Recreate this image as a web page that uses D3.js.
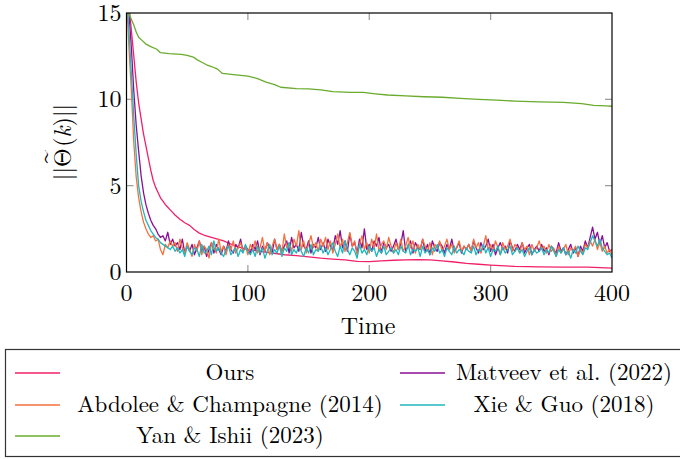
<!DOCTYPE html>
<html>
<head>
<meta charset="utf-8">
<script src="https://cdn.jsdelivr.net/npm/d3@7"></script>
<style>
  body { margin: 0; background: #fff; }
</style>
</head>
<body>
<div id="chart"></div>
<script>
// ---- data ----
var x_ticks = [0, 100, 200, 300, 400];
var y_ticks = [0, 5, 10, 15];

// smooth curves: (time, value) pairs
var ours_t = [0,2,4,6,8,10,12,14,16,18,20,22,24,26,28,30,32,34,36,38,40,44,48,52,56,60,65,70,75,80,85,90,95,100,110,120,130,140,150,160,170,180,190,200,210,220,230,240,250,260,270,280,290,300,320,340,360,380,400];
var ours_v = [17,15.5,14,12.5,11,9.8,8.9,8.0,7.3,6.6,5.9,5.3,4.9,4.6,4.3,4.1,3.9,3.75,3.6,3.45,3.3,3.05,2.85,2.7,2.45,2.25,2.1,2.0,1.9,1.8,1.65,1.5,1.4,1.3,1.2,1.1,1.0,0.95,0.88,0.8,0.75,0.7,0.62,0.6,0.65,0.68,0.7,0.72,0.7,0.65,0.58,0.5,0.45,0.4,0.32,0.3,0.28,0.28,0.23];

var yan_t = [0,3,6,8,10,13,16,20,25,28,35,45,50,55,58,62,66,70,75,79,90,100,108,115,122,127,140,150,160,170,185,195,205,215,230,245,260,275,290,305,320,340,360,375,385,395,400];
var yan_v = [15.2,14.8,14.3,13.9,13.6,13.4,13.2,13.05,12.9,12.7,12.65,12.6,12.55,12.45,12.3,12.15,12.0,11.9,11.75,11.5,11.42,11.35,11.2,11.0,10.85,10.7,10.62,10.6,10.55,10.45,10.4,10.4,10.32,10.25,10.2,10.15,10.12,10.05,10.0,9.95,9.9,9.85,9.82,9.75,9.65,9.62,9.6];

// noisy curves: one value every 2 time steps, t = 0..400
var abdolee_v = [16,13,10.5,7.5,5.5,4.3,3.5,2.9,2.5,2.2,2.0,2.1,1.8,1.9,1.3,1.0,1.6,1.4,1.8,1.5,1.7,
  1.2,1.9,1.4,1.1,1.7,1.3,0.9,1.6,1.2,1.8,1.0,1.5,1.3,0.8,1.7,1.4,1.1,1.9,1.2,1.5,1.0,1.6,1.3,1.8,1.1,1.4,1.7,1.2,1.5,1.0,
  1.6,1.3,1.8,1.1,1.4,2.0,1.2,1.7,1.0,1.5,1.9,1.3,1.6,1.1,2.2,1.4,1.7,1.2,1.9,1.5,2.4,1.3,1.8,1.1,1.6,2.1,1.4,1.7,1.2,1.9,
  1.5,2.0,1.3,1.8,1.1,1.6,2.2,1.4,1.9,1.2,1.7,2.3,1.5,1.8,1.0,1.6,2.1,1.3,1.7,1.1,1.9,1.4,2.2,1.2,1.6,1.8,1.3,2.0,1.5,1.1,
  1.7,1.3,1.9,1.2,1.5,2.0,1.4,1.8,1.1,1.6,1.3,1.9,1.5,1.2,1.7,1.0,1.6,1.4,1.8,1.2,1.5,1.9,1.3,1.6,1.1,1.4,1.8,1.2,1.5,1.3,
  1.6,1.2,1.9,1.4,1.7,1.1,1.5,2.1,1.3,1.6,1.2,1.8,1.4,1.0,1.7,1.3,1.5,1.9,1.2,1.6,1.4,1.1,1.7,1.3,1.5,1.0,1.6,1.2,1.4,1.8,
  1.3,1.5,1.1,1.6,1.2,1.4,0.9,1.5,1.1,1.3,1.6,1.0,1.4,1.2,1.5,0.9,1.3,1.1,1.6,1.4,1.8,1.5,1.9,1.3,1.7,1.2,1.5,1.1,1.3,1.0];

var xie_v = [16,14,11.5,9,6.8,5.0,4.1,3.5,3.0,2.7,2.4,2.2,2.0,1.9,1.7,1.6,1.5,1.4,1.3,1.5,1.2,
  1.4,1.1,1.3,0.9,1.5,1.2,1.0,1.4,1.3,0.9,1.6,1.1,1.2,1.5,1.0,1.8,1.2,1.4,1.1,0.9,1.3,1.5,1.0,1.2,1.4,0.9,1.3,1.1,1.6,1.2,
  1.0,1.3,0.9,1.5,1.1,1.4,0.8,1.2,1.6,1.0,1.3,1.1,1.5,0.9,1.4,1.2,1.7,1.0,1.3,1.1,1.5,1.2,0.9,1.4,1.1,1.6,1.0,1.3,1.2,1.5,
  1.1,1.4,1.0,1.3,1.7,1.2,0.9,1.5,1.1,1.8,1.3,1.0,1.4,1.2,0.8,1.6,1.1,1.3,1.0,1.5,1.2,1.4,0.9,1.3,1.1,1.5,1.0,1.2,1.4,1.1,
  1.3,1.0,1.5,1.2,1.1,1.6,1.0,1.3,1.2,1.4,0.9,1.5,1.1,1.3,1.0,1.4,1.2,1.6,1.1,1.3,0.9,1.4,1.2,1.0,1.5,1.1,1.3,1.2,1.0,1.4,
  1.2,1.1,1.5,1.0,1.3,1.2,1.6,1.1,1.4,0.9,1.3,1.2,1.5,1.0,1.4,1.1,1.3,1.5,1.0,1.2,1.4,1.1,1.3,0.9,1.2,1.4,1.0,1.3,1.1,1.2,
  1.4,1.0,1.3,1.1,1.5,1.2,0.9,1.3,1.1,1.4,1.0,1.2,0.8,1.3,1.1,1.5,1.2,1.0,1.4,1.3,1.7,2.1,1.8,1.5,1.9,1.4,1.2,1.0,1.1,0.8];

var matveev_v = [16.5,15,13,10.5,8.5,7.0,5.6,4.6,3.9,3.4,3.0,2.7,2.5,2.2,2.0,2.1,1.8,2.3,1.6,1.9,1.5,
  1.7,1.3,1.9,1.1,1.5,1.2,1.6,1.0,1.4,1.8,1.2,1.5,0.9,1.3,1.7,1.1,1.6,1.3,1.0,1.5,1.2,1.8,1.3,1.1,1.6,1.4,1.9,1.2,1.5,1.3,
  1.1,1.6,1.3,1.8,1.0,1.5,1.2,1.7,1.4,1.1,1.9,1.3,1.6,1.2,1.5,1.8,1.1,2.0,1.4,1.6,1.2,2.3,1.5,1.3,1.8,1.1,1.6,1.4,2.0,1.3,
  1.7,1.2,1.9,1.5,1.3,2.1,1.6,2.4,1.4,1.8,1.2,2.2,1.5,1.7,1.1,1.9,1.4,2.5,1.3,1.6,1.2,1.8,1.5,2.0,1.1,1.7,1.4,1.6,1.2,1.5,
  1.9,1.3,1.6,2.4,1.2,1.5,1.8,1.1,1.7,1.4,1.3,1.9,1.2,1.6,1.0,1.8,1.4,1.2,1.7,1.5,1.1,1.6,1.3,1.9,1.2,1.4,1.7,1.1,1.5,1.3,
  1.6,1.2,1.8,1.4,1.1,1.7,1.3,1.5,1.9,1.2,1.6,1.0,1.4,1.7,1.3,1.5,1.1,1.8,1.4,1.2,1.6,1.3,1.7,1.1,1.4,1.6,1.0,1.3,1.5,1.2,
  1.6,1.2,1.4,1.0,1.5,1.3,1.1,1.7,1.2,1.4,1.0,1.3,1.6,1.1,1.4,0.9,1.5,1.2,1.8,1.4,2.0,2.6,1.9,2.3,1.6,2.1,1.4,1.7,1.2,1.3];

var noisy_t = d3.range(0, 401, 2);

var legend_names  = ['Ours', 'Matveev et al. (2022)', 'Abdolee & Champagne (2014)', 'Xie & Guo (2018)', 'Yan & Ishii (2023)'];
var legend_colors = ['#f2206a', '#8b0f95', '#f5703c', '#1cb7bf', '#6aab2e'];


// ---- svg ----
var chart_width  = 680;
var chart_height = 459;
var serif = "'Latin Modern Roman', 'Liberation Serif', serif";
var svg = d3.select('#chart')
	.append('svg')
	.attr('width', chart_width)
	.attr('height', chart_height);

var plot = { left: 126.5, right: 612, top: 13, bottom: 272 };

var x_scale = d3.scaleLinear().domain([0, 400]).range([plot.left, plot.right]);
var y_scale = d3.scaleLinear().domain([0, 15]).range([plot.bottom, plot.top]);

svg.append('clipPath').attr('id', 'clip')
	.append('rect')
	.attr('x', plot.left).attr('y', plot.top)
	.attr('width', plot.right - plot.left).attr('height', plot.bottom - plot.top);

// gray inward ticks on all four sides
var tick_len = 7;
x_ticks.forEach(function(t){
	if (t === 0 || t === 400) return;
	svg.append('line').attr('x1', x_scale(t)).attr('x2', x_scale(t))
		.attr('y1', plot.bottom).attr('y2', plot.bottom - tick_len)
		.attr('stroke', '#999').attr('stroke-width', 1.2);
	svg.append('line').attr('x1', x_scale(t)).attr('x2', x_scale(t))
		.attr('y1', plot.top).attr('y2', plot.top + tick_len)
		.attr('stroke', '#999').attr('stroke-width', 1.2);
});
y_ticks.forEach(function(t){
	if (t === 0 || t === 15) return;
	svg.append('line').attr('x1', plot.left).attr('x2', plot.left + tick_len)
		.attr('y1', y_scale(t)).attr('y2', y_scale(t))
		.attr('stroke', '#999').attr('stroke-width', 1.2);
	svg.append('line').attr('x1', plot.right).attr('x2', plot.right - tick_len)
		.attr('y1', y_scale(t)).attr('y2', y_scale(t))
		.attr('stroke', '#999').attr('stroke-width', 1.2);
});

// lines
var line = d3.line()
	.x(function(d){ return x_scale(d[0]); })
	.y(function(d){ return y_scale(d[1]); });

function pairs(ts, vs){
	return vs.map(function(v, i){ return [ts[i], v]; });
}

var series = [
	{ data: pairs(ours_t, ours_v),       color: legend_colors[0] },
	{ data: pairs(noisy_t, matveev_v),   color: legend_colors[1] },
	{ data: pairs(noisy_t, abdolee_v),   color: legend_colors[2] },
	{ data: pairs(noisy_t, xie_v),       color: legend_colors[3] },
	{ data: pairs(yan_t, yan_v),         color: legend_colors[4] }
];

svg.append('g').attr('clip-path', 'url(#clip)')
	.selectAll('path')
	.data(series)
	.enter()
	.append('path')
	.attr('d', function(d){ return line(d.data); })
	.attr('fill', 'none')
	.attr('stroke', function(d){ return d.color; })
	.attr('stroke-width', 1.3)
	.attr('stroke-linejoin', 'round');

// frame
svg.append('rect')
	.attr('x', plot.left).attr('y', plot.top)
	.attr('width', plot.right - plot.left).attr('height', plot.bottom - plot.top)
	.attr('fill', 'none').attr('stroke', '#000').attr('stroke-width', 1.2);

// tick labels
svg.selectAll('.xlab')
	.data(x_ticks)
	.enter()
	.append('text')
	.attr('font-family', serif)
	.attr('x', function(d){ return x_scale(d); })
	.attr('y', 301)
	.attr('text-anchor', 'middle')
	.attr('font-size', 24)
	.text(function(d){ return d; });

svg.selectAll('.ylab')
	.data(y_ticks)
	.enter()
	.append('text')
	.attr('font-family', serif)
	.attr('x', plot.left - 5)
	.attr('y', function(d){ return y_scale(d) + 8; })
	.attr('text-anchor', 'end')
	.attr('font-size', 24)
	.text(function(d){ return d; });

// axis titles
svg.append('text')
	.attr('font-family', serif)
	.attr('x', 368)
	.attr('y', 334)
	.attr('text-anchor', 'middle')
	.attr('font-size', 24)
	.text('Time');

var ylab = svg.append('text')
	.attr('font-family', serif)
	.attr('transform', 'translate(71,142) rotate(-90)')
	.attr('text-anchor', 'middle')
	.attr('font-size', 24);
ylab.append('tspan').text('||\u0398');
ylab.append('tspan').attr('dx', -15).attr('dy', -19).text('~');
ylab.append('tspan').attr('dx', 3).attr('dy', 19).text('(');
ylab.append('tspan').attr('font-style', 'italic').text('k');
ylab.append('tspan').text(')||');

// legend
svg.append('rect')
	.attr('x', 5.5).attr('y', 349.5)
	.attr('width', 680).attr('height', 107)
	.attr('fill', '#fff').attr('stroke', '#333').attr('stroke-width', 1.2);

var legend_rows = [373, 405, 436];
var legend_cols = [
	{ line_x: 15, text_x: 230 },
	{ line_x: 400, text_x: 564 }
];

var entries = svg.selectAll('.legend')
	.data(legend_names)
	.enter()
	.append('g');

entries.append('line')
	.attr('x1', function(d, i){ return legend_cols[i % 2].line_x; })
	.attr('x2', function(d, i){ return legend_cols[i % 2].line_x + 45; })
	.attr('y1', function(d, i){ return legend_rows[Math.floor(i / 2)]; })
	.attr('y2', function(d, i){ return legend_rows[Math.floor(i / 2)]; })
	.attr('stroke', function(d, i){ return legend_colors[i]; })
	.attr('stroke-width', 1.6);

entries.append('text')
	.attr('font-family', serif)
	.attr('x', function(d, i){ return legend_cols[i % 2].text_x; })
	.attr('y', function(d, i){ return legend_rows[Math.floor(i / 2)] + 7; })
	.attr('text-anchor', 'middle')
	.attr('font-size', 23)
	.text(function(d){ return d; });
</script>
</body>
</html>
